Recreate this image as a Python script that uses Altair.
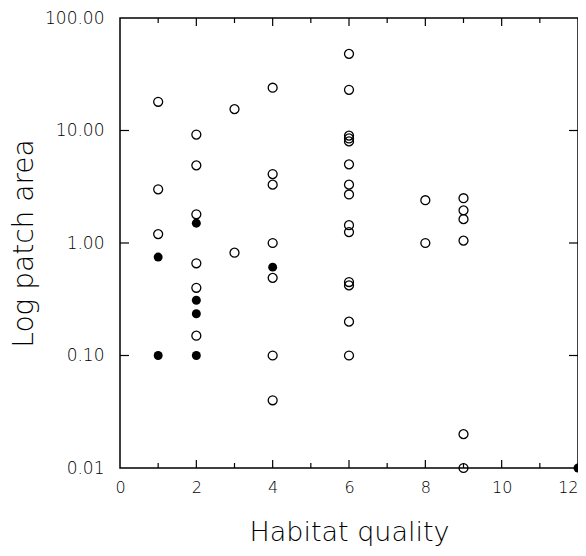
import altair as alt
import pandas as pd

# Open circles
open_x = [1, 1, 1,
          2, 2, 2, 2, 2, 2,
          3, 3,
          4, 4, 4, 4, 4, 4, 4,
          6, 6, 6, 6, 6, 6, 6, 6, 6, 6, 6, 6, 6, 6,
          8, 8,
          9, 9, 9, 9, 9, 9]
open_y = [18, 3.0, 1.2,
          9.2, 4.9, 1.8, 0.66, 0.40, 0.15,
          15.5, 0.82,
          24, 4.1, 3.3, 1.0, 0.49, 0.10, 0.04,
          48, 23, 9.0, 8.5, 8.0, 5.0, 3.3, 2.7, 1.44, 1.25, 0.45, 0.42, 0.20, 0.10,
          2.4, 1.0,
          2.5, 1.95, 1.63, 1.05, 0.02, 0.01]

# Filled circles
filled_x = [1, 1, 2, 2, 2, 2, 4, 12]
filled_y = [0.75, 0.10, 1.5, 0.31, 0.235, 0.10, 0.61, 0.01]

x_major = [2, 4, 6, 8, 10]
x_minor = [1, 3, 5, 7, 9, 11]
y_ticks = [10, 1, 0.1]
x_labels = [0, 2, 4, 6, 8, 10, 12]
y_labels = [0.01, 0.1, 1, 10, 100]

W, H = 458, 450
FONT = "DejaVu Sans"

xscale = alt.Scale(domain=[0, 12], nice=False, zero=False)
yscale = alt.Scale(type="log", domain=[0.01, 100], nice=False)

df_open = pd.DataFrame({"q": open_x, "a": open_y})
df_fill = pd.DataFrame({"q": filled_x, "a": filled_y})

x_axis = alt.Axis(values=x_labels, format="d", ticks=False, domain=False, grid=False,
                  labelFlush=False, labelOverlap=False,
                  labelAlign=alt.expr("datum.value == 12 ? 'right' : 'center'"),
                  labelFontSize=16, labelFont=FONT, labelFontWeight=200,
                  labelColor="black", labelPadding=11,
                  title="Habitat quality", titleFont=FONT, titleFontSize=27,
                  titleFontWeight=200, titleColor="black",
                  titleBaseline="alphabetic", titleY=72)
y_axis = alt.Axis(values=y_labels, format=".2f", ticks=False, domain=False, grid=False,
                  labelFlush=False, labelOverlap=False,
                  labelFontSize=17, labelFont=FONT, labelFontWeight=200,
                  labelColor="black", labelPadding=16,
                  title="Log patch area", titleFont=FONT, titleFontSize=28,
                  titleFontWeight=200, titleColor="black",
                  titleBaseline="alphabetic", titleX=-88, titleY=H / 2, titleAngle=-90)

open_layer = alt.Chart(df_open).mark_point(
    shape="circle", filled=False, stroke="black", strokeWidth=1.3, size=80, opacity=1
).encode(
    x=alt.X("q:Q", scale=xscale, axis=x_axis),
    y=alt.Y("a:Q", scale=yscale, axis=y_axis),
)

fill_layer = alt.Chart(df_fill).mark_point(
    shape="circle", filled=True, color="black", size=80, opacity=1
).encode(
    x=alt.X("q:Q", scale=xscale),
    y=alt.Y("a:Q", scale=yscale),
)

df_xmaj = pd.DataFrame({"q": x_major})
df_xmin = pd.DataFrame({"q": x_minor})
df_yt = pd.DataFrame({"a": y_ticks})

def xticks(df, length):
    bottom = alt.Chart(df).mark_rule(color="black", strokeWidth=1.2).encode(
        x=alt.X("q:Q", scale=xscale), y=alt.value(H), y2=alt.value(H - length))
    top = alt.Chart(df).mark_rule(color="black", strokeWidth=1.2).encode(
        x=alt.X("q:Q", scale=xscale), y=alt.value(0), y2=alt.value(length))
    return [bottom, top]

yt_left = alt.Chart(df_yt).mark_rule(color="black", strokeWidth=1.2).encode(
    y=alt.Y("a:Q", scale=yscale), x=alt.value(0), x2=alt.value(9))
yt_right = alt.Chart(df_yt).mark_rule(color="black", strokeWidth=1.2).encode(
    y=alt.Y("a:Q", scale=yscale), x=alt.value(W), x2=alt.value(W - 9))

chart = alt.layer(
    *xticks(df_xmaj, 8), *xticks(df_xmin, 5), yt_left, yt_right,
    open_layer, fill_layer
).properties(
    width=W, height=H,
    autosize=alt.AutoSizeParams(type="none"),
    padding={"left": 112, "top": 10, "right": 0, "bottom": 80},
    background="white",
).configure_view(
    stroke="black", strokeWidth=1.5
)

chart.save("out.html", embed_options={"renderer": "svg", "actions": False})
